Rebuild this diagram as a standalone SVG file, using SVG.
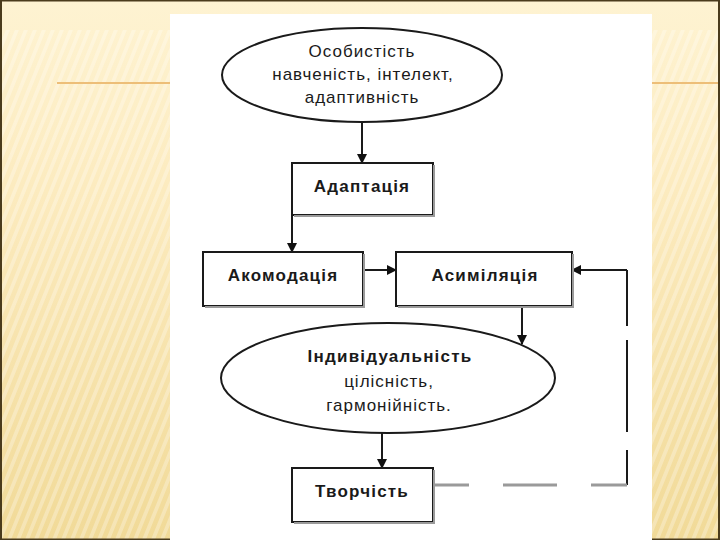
<svg xmlns="http://www.w3.org/2000/svg" width="720" height="540" viewBox="0 0 720 540">
  <defs>
    <linearGradient id="bg" x1="0" y1="0" x2="0" y2="1">
      <stop offset="0" stop-color="#FEF3D2"/>
      <stop offset="0.35" stop-color="#FCEBBF"/>
      <stop offset="1" stop-color="#F1DA98"/>
    </linearGradient>
    <pattern id="stripes" width="9" height="540" patternUnits="userSpaceOnUse" patternTransform="skewX(-22)">
      <rect x="0" y="0" width="4" height="540" fill="#FFFFFF" fill-opacity="0.28"/>
    </pattern>
    <marker id="arr" markerWidth="10" markerHeight="10" refX="9" refY="5" orient="auto" markerUnits="userSpaceOnUse">
      <path d="M0,0 L10,5 L0,10 Z" fill="#111"/>
    </marker>
    <style>
      .box { fill: #fff; stroke: #1a1a1a; stroke-width: 2; }
      .shadow { fill: none; stroke: #9a9a9a; stroke-width: 2; }
      .ell { fill: #fff; stroke: #1a1a1a; stroke-width: 2; }
      .lbl { font-family: "Liberation Sans", Arial, sans-serif; font-size: 17px; font-weight: bold; fill: #1a1a1a; text-anchor: middle; letter-spacing: 1.2px; }
      .txt { font-family: "Liberation Sans", Arial, sans-serif; font-size: 17px; fill: #1a1a1a; text-anchor: middle; letter-spacing: 1px; }
      .conn { fill: none; stroke: #1a1a1a; stroke-width: 2; }
    </style>
  </defs>

  <!-- slide background -->
  <rect x="0" y="0" width="720" height="540" fill="url(#bg)"/>
  <rect x="0" y="30" width="720" height="510" fill="url(#stripes)"/>
  <line x1="57" y1="83" x2="170" y2="83" stroke="#EDBE78" stroke-width="2"/>
  <line x1="652" y1="83" x2="718" y2="83" stroke="#EDBE78" stroke-width="2"/>
  <rect x="1" y="0.5" width="718" height="539" fill="none" stroke="#4A3B1C" stroke-width="2"/>

  <!-- white panel -->
  <rect x="170" y="14" width="482" height="526" fill="#FFFFFF"/>

  <g id="connectors">
    <line class="conn" x1="362" y1="122" x2="362" y2="163" marker-end="url(#arr)"/>
    <line class="conn" x1="292" y1="215" x2="292" y2="252" marker-end="url(#arr)"/>
    <line class="conn" x1="363" y1="270" x2="396" y2="270" marker-end="url(#arr)"/>
    <line class="conn" x1="522" y1="306" x2="522" y2="344" marker-end="url(#arr)"/>
    <line class="conn" x1="382" y1="433" x2="382" y2="468" marker-end="url(#arr)"/>
    <line class="conn" x1="627" y1="270" x2="572" y2="270" marker-end="url(#arr)"/>
    <path class="conn" d="M627,270 V485" stroke-dasharray="56,14,92,18,40"/>
    <path d="M433,485 H627" fill="none" stroke="#9a9a9a" stroke-width="3" stroke-dasharray="36,34,54,34,37"/>
  </g>

  <g id="n-osobystist">
    <ellipse class="ell" cx="362" cy="75" rx="140" ry="47"/>
    <text class="txt" x="362" y="57">Особистість</text>
    <text class="txt" x="363" y="80">навченість, інтелект,</text>
    <text class="txt" x="362" y="103">адаптивність</text>
  </g>

  <g id="n-adaptatsiia">
    <rect class="box" x="292" y="163" width="141" height="52"/>
    <path class="shadow" d="M434,165 V216 H294"/>
    <text class="lbl" x="362" y="192">Адаптація</text>
  </g>

  <g id="n-akomodatsiia">
    <rect class="box" x="203" y="252" width="160" height="54"/>
    <path class="shadow" d="M364,254 V307 H205"/>
    <text class="lbl" x="283" y="281">Акомодація</text>
  </g>

  <g id="n-asymiliatsiia">
    <rect class="box" x="396" y="252" width="176" height="54"/>
    <path class="shadow" d="M573,254 V307 H398"/>
    <text class="lbl" x="485" y="281">Асиміляція</text>
  </g>

  <g id="n-indyvidualnist">
    <ellipse class="ell" cx="388" cy="378" rx="167" ry="55"/>
    <text class="lbl" x="390" y="362">Індивідуальність</text>
    <text class="txt" x="389" y="387">цілісність,</text>
    <text class="txt" x="389" y="411">гармонійність.</text>
  </g>

  <g id="n-tvorchist">
    <rect class="box" x="292" y="468" width="141" height="54"/>
    <path class="shadow" d="M434,470 V523 H294"/>
    <text class="lbl" x="362" y="497">Творчість</text>
  </g>
</svg>
